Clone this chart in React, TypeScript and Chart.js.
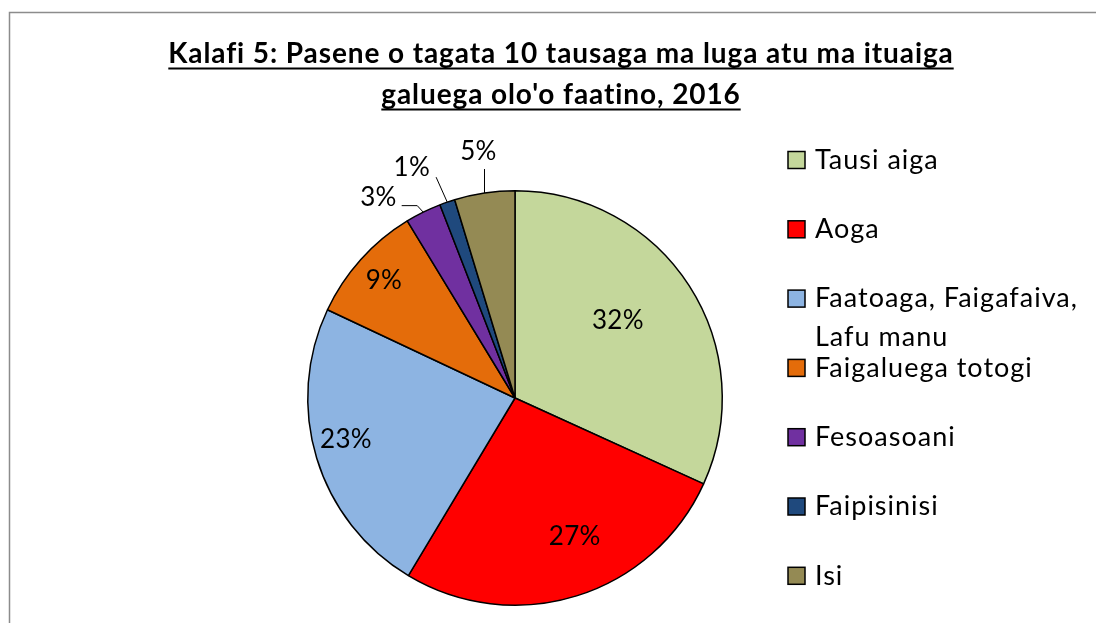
import React, { useEffect, useRef } from "react";
import { Chart, registerables } from "chart.js";

Chart.register(...registerables);

const titleLines = [
  "Kalafi 5: Pasene o tagata 10 tausaga ma luga atu ma ituaiga",
  "galuega olo'o faatino, 2016",
];
const categories = [
  "Tausi aiga",
  "Aoga",
  "Faatoaga, Faigafaiva, Lafu manu",
  "Faigaluega totogi",
  "Fesoasoani",
  "Faipisinisi",
  "Isi",
];
const values = [31.8, 26.8, 23.4, 9.3, 2.8, 1.2, 4.7];
const colors = ["#C4D79B", "#FF0000", "#8DB4E2", "#E46C0A", "#7030A0", "#1F497D", "#948A54"];

// label placement style (radius factor and angle nudge in degrees)
const labelRadius = [0.62, 0.73, 0.84, 0.85, 1.17, 1.22, 1.2];
const labelNudge = [-4, -6, 3, 0, -8, -5, 0];

const FONT = "Lato, 'Open Sans', sans-serif";

const decorPlugin = {
  id: "decor",
  beforeDraw(chart: any) {
    const ctx = chart.ctx;
    ctx.save();
    ctx.fillStyle = "#ffffff";
    ctx.fillRect(0, 0, chart.width, chart.height);
    ctx.strokeStyle = "#8c8c8c";
    ctx.lineWidth = 1.5;
    ctx.beginPath();
    ctx.moveTo(9.5, chart.height + 5);
    ctx.lineTo(9.5, 12.5);
    ctx.lineTo(chart.width + 5, 12.5);
    ctx.stroke();
    ctx.restore();
  },
  afterDraw(chart: any) {
    const ctx = chart.ctx;
    ctx.save();
    // title
    ctx.font = `bold 28px ${FONT}`;
    (ctx as any).letterSpacing = "0.9px";
    ctx.fillStyle = "#000";
    ctx.textAlign = "center";
    ctx.textBaseline = "alphabetic";
    const cx = 561;
    const ys = [63, 104];
    titleLines.forEach((t, i) => {
      ctx.fillText(t, cx, ys[i]);
      const w = ctx.measureText(t).width;
      ctx.fillRect(cx - w / 2, ys[i] + 4.5, w, 2);
    });

    // legend
    const legTop = 160;
    const legStep = 69.3;
    const sq = 17;
    const sqX = 788;
    const txtX = 815;
    const maxW = 280;
    ctx.font = `27px ${FONT}`;
    (ctx as any).letterSpacing = "1px";
    ctx.textAlign = "left";
    ctx.textBaseline = "middle";
    categories.forEach((c, i) => {
      const y = legTop + i * legStep;
      ctx.fillStyle = colors[i];
      ctx.fillRect(sqX, y - sq / 2, sq, sq);
      ctx.strokeStyle = "#000";
      ctx.lineWidth = 1.5;
      ctx.strokeRect(sqX, y - sq / 2, sq, sq);
      const words = c.split(" ");
      const lines: string[] = [];
      let cur = "";
      words.forEach((w) => {
        const test = cur ? cur + " " + w : w;
        if (ctx.measureText(test).width > maxW && cur) {
          lines.push(cur);
          cur = w;
        } else cur = test;
      });
      lines.push(cur);
      ctx.fillStyle = "#000";
      lines.forEach((l, j) => ctx.fillText(l, txtX, y + j * 39));
    });

    // data labels
    const meta = chart.getDatasetMeta(0);
    ctx.font = `26px ${FONT}`;
    (ctx as any).letterSpacing = "0.3px";
    ctx.textAlign = "center";
    ctx.textBaseline = "middle";
    meta.data.forEach((arc: any, i: number) => {
      const mid = (arc.startAngle + arc.endAngle) / 2;
      const R = arc.outerRadius;
      const a = mid + (labelNudge[i] * Math.PI) / 180;
      const lx = arc.x + Math.cos(a) * R * labelRadius[i];
      const ly = arc.y + Math.sin(a) * R * labelRadius[i];
      const txt = Math.round(values[i]) + "%";
      ctx.fillStyle = "#000";
      ctx.fillText(txt, lx, ly);
      if (labelRadius[i] > 1) {
        const ex = arc.x + Math.cos(mid) * R;
        const ey = arc.y + Math.sin(mid) * R;
        const tw = ctx.measureText(txt).width;
        const right = lx + tw / 2;
        const left = lx - tw / 2;
        const bottom = ly + 10;
        ctx.strokeStyle = "#000";
        ctx.lineWidth = 1;
        ctx.beginPath();
        if (ex >= left && ex <= right + 10) {
          ctx.moveTo(ex, ey);
          ctx.lineTo(ex, bottom + 7);
        } else if (ey - bottom > 20) {
          ctx.moveTo(ex, ey);
          ctx.lineTo(right + 6, bottom);
        } else {
          ctx.moveTo(ex, ey);
          ctx.lineTo(ex - 6, ly + 8);
          ctx.lineTo(right + 5, ly + 8);
        }
        ctx.stroke();
      }
    });
    ctx.restore();
  },
};

export default function App() {
  const ref = useRef<HTMLCanvasElement | null>(null);
  useEffect(() => {
    if (!ref.current) return;
    const chart = new Chart(ref.current, {
      type: "pie",
      data: {
        labels: categories,
        datasets: [
          {
            data: values,
            backgroundColor: colors,
            borderColor: "#000000",
            borderWidth: 1.5,
          },
        ],
      },
      options: {
        responsive: false,
        animation: false,
        devicePixelRatio: 1,
        layout: { padding: { left: 307, right: 373, top: 190, bottom: 17 } },
        plugins: {
          legend: { display: false },
          title: { display: false },
          tooltip: { enabled: false },
        },
      },
      plugins: [decorPlugin],
    });
    return () => chart.destroy();
  }, []);
  return (
    <div style={{ position: "absolute", left: 0, top: 0, width: 1096, height: 623 }}>
      <canvas ref={ref} width={1096} height={623} />
    </div>
  );
}
